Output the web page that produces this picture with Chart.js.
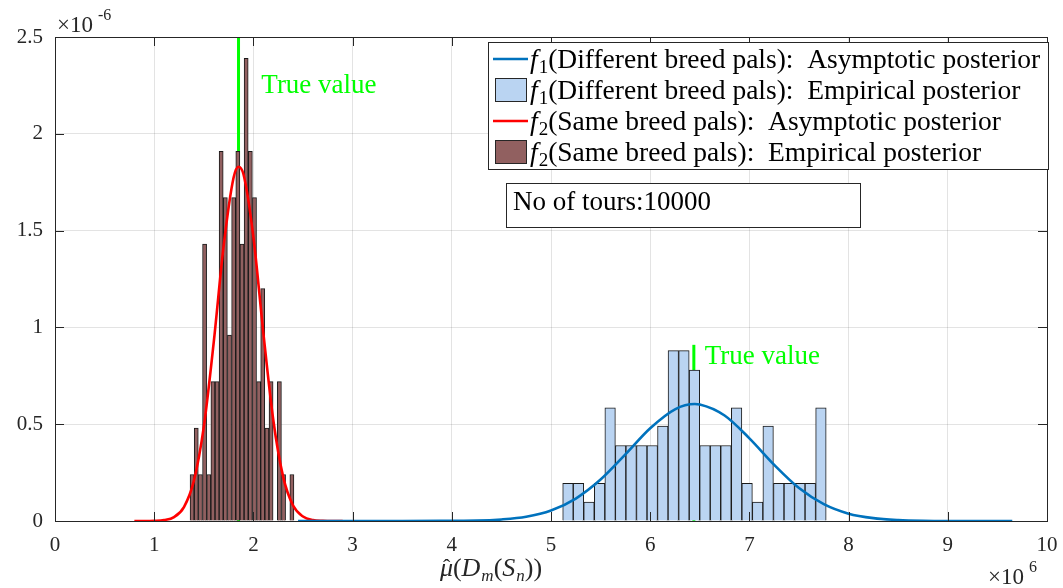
<!DOCTYPE html>
<html>
<head>
<meta charset="utf-8">
<script src="https://cdn.jsdelivr.net/npm/chart.js@4.4.1/dist/chart.umd.min.js"></script>
<style>
html, body { margin: 0; padding: 0; background: #fff; }
#wrap { width: 1063px; height: 588px; }
</style>
</head>
<body>
<div id="wrap"><canvas id="grafica" width="1063" height="588"></canvas></div>
<script>
// histogram f2 (same breed pals): bin centres (x 1e6) and density (x 1e-6)
const binsSame = [1.382, 1.424, 1.466, 1.508, 1.550, 1.592, 1.634, 1.675, 1.717, 1.759,
                  1.801, 1.843, 1.885, 1.927, 1.969, 2.011, 2.053, 2.094, 2.136, 2.178,
                  2.220, 2.262, 2.304, 2.346, 2.388];
const histSame = [0.24, 0.48, 0.24, 1.43, 0.24, 0.72, 0.72, 1.91, 1.67, 0.96,
                  1.67, 1.91, 1.43, 2.39, 1.91, 1.67, 0.72, 1.20, 0.48, 0.72,
                  0, 0.72, 0.24, 0, 0.24];

// histogram f1 (different breed pals)
const binsDiff = [5.171, 5.277, 5.383, 5.490, 5.596, 5.702, 5.808, 5.915, 6.021, 6.127,
                  6.233, 6.340, 6.446, 6.552, 6.658, 6.764, 6.871, 6.977, 7.083, 7.189,
                  7.296, 7.402, 7.508, 7.614, 7.721];
const histDiff = [0.195, 0.195, 0.098, 0.195, 0.585, 0.39, 0.39, 0.39, 0.39, 0.49,
                  0.88, 0.88, 0.78, 0.39, 0.39, 0.39, 0.585, 0.195, 0.098, 0.49,
                  0.195, 0.195, 0.195, 0.195, 0.585];

// asymptotic posteriors
const curveSameX = [0.8, 0.9, 1.0, 1.1, 1.2, 1.3, 1.4, 1.5, 1.6, 1.7, 1.8, 1.85, 1.9,
                    2.0, 2.1, 2.2, 2.3, 2.4, 2.5, 2.6, 2.7, 2.8, 2.9];
const curveSameY = [0, 0, 0.001, 0.005, 0.02, 0.072, 0.207, 0.486, 0.923, 1.421, 1.773, 1.83, 1.791,
                    1.467, 0.973, 0.523, 0.228, 0.08, 0.023, 0.005, 0.001, 0, 0];
const curveDiffX = [2.45, 3.0, 3.5, 4.0, 4.25, 4.5, 4.75, 5.0, 5.25, 5.5, 5.75, 6.0, 6.25, 6.45, 6.5,
                    6.75, 7.0, 7.25, 7.5, 7.75, 8.0, 8.25, 8.5, 8.75, 9.0, 9.65];
const curveDiffY = [0, 0, 0, 0.001, 0.002, 0.008, 0.022, 0.054, 0.116, 0.214, 0.344, 0.479, 0.577, 0.604, 0.602,
                    0.545, 0.427, 0.29, 0.17, 0.087, 0.038, 0.015, 0.005, 0.001, 0, 0];

// true values (x) and how high each green marker goes (y)
const trueX = [1.85, 6.44];
const trueTop = [2.5, 0.91];

const xTicks = ['0', '1', '2', '3', '4', '5', '6', '7', '8', '9', '10'];
const yTicks = ['0', '0.5', '1', '1.5', '2', '2.5'];

const legendNames = ['(Different breed pals):  Asymptotic posterior',
                     '(Different breed pals):  Empirical posterior',
                     '(Same breed pals):  Asymptotic posterior',
                     '(Same breed pals):  Empirical posterior'];
const legendSubs = ['1', '1', '2', '2'];
const toursText = 'No of tours:10000';

const SERIF = '"Liberation Serif", "Times New Roman", serif';
const BLUE = '#0072BD';
const RED = '#FF0000';
const GREEN = '#00FF00';
const LIGHTBLUE = 'rgb(186,212,242)';
const BROWN = 'rgb(145,96,96)';
const AXIS = '#262626';

const pts = (xs, ys) => xs.map((x, i) => ({ x: x, y: ys[i] }));

function drawRuns(ctx, x, y, runs) {
    runs.forEach(r => {
        ctx.font = r.font;
        ctx.fillText(r.text, x, y + (r.dy || 0));
        x += ctx.measureText(r.text).width + (r.gap || 0);
    });
    return x;
}
function runsWidth(ctx, runs) {
    let w = 0;
    runs.forEach(r => { ctx.font = r.font; w += ctx.measureText(r.text).width + (r.gap || 0); });
    return w;
}

const extras = {
    id: 'extras',
    afterDatasetsDraw(chart) {
        const ctx = chart.ctx;
        const a = chart.chartArea;
        const xs = chart.scales.x, ys = chart.scales.y;
        ctx.save();
        ctx.strokeStyle = AXIS;
        ctx.lineWidth = 1;
        ctx.beginPath();
        xs.ticks.forEach(t => {
            const px = Math.round(xs.getPixelForValue(t.value)) + 0.5;
            ctx.moveTo(px, a.bottom); ctx.lineTo(px, a.bottom - 9);
            ctx.moveTo(px, a.top); ctx.lineTo(px, a.top + 9);
        });
        ys.ticks.forEach(t => {
            const py = Math.round(ys.getPixelForValue(t.value)) + 0.5;
            ctx.moveTo(a.left, py); ctx.lineTo(a.left + 9, py);
            ctx.moveTo(a.right, py); ctx.lineTo(a.right - 9, py);
        });
        ctx.stroke();
        ctx.strokeRect(Math.round(a.left) + 0.5, Math.round(a.top) + 0.5,
                       Math.round(a.right - a.left), Math.round(a.bottom - a.top));
        ctx.restore();
    },
    afterDraw(chart) {
        const ctx = chart.ctx;
        const xs = chart.scales.x, ys = chart.scales.y;
        ctx.save();
        ctx.textBaseline = 'alphabetic';
        ctx.textAlign = 'left';

        // "True value" labels
        ctx.fillStyle = GREEN;
        ctx.font = '27px ' + SERIF;
        ctx.fillText('True value', xs.getPixelForValue(2.08), ys.getPixelForValue(2.21));
        ctx.fillText('True value', xs.getPixelForValue(6.55), ys.getPixelForValue(0.81));

        // exponent labels
        ctx.fillStyle = AXIS;
        drawRuns(ctx, 57, 32, [
            { text: '\u00d710', font: '23px ' + SERIF, gap: 5 },
            { text: '-6', font: '16px ' + SERIF, dy: -12 }
        ]);
        drawRuns(ctx, 988, 584, [
            { text: '\u00d710', font: '23px ' + SERIF, gap: 5 },
            { text: '6', font: '16px ' + SERIF, dy: -12 }
        ]);

        // x axis title
        const title = [
            { text: '\u03bc', font: 'italic 26px ' + SERIF },
            { text: '(', font: '26px ' + SERIF },
            { text: 'D', font: 'italic 26px ' + SERIF, gap: 1 },
            { text: 'm', font: 'italic 17px ' + SERIF, dy: 5 },
            { text: '(', font: '26px ' + SERIF },
            { text: 'S', font: 'italic 26px ' + SERIF, gap: 1 },
            { text: 'n', font: 'italic 17px ' + SERIF, dy: 5 },
            { text: '))', font: '26px ' + SERIF }
        ];
        const tw = runsWidth(ctx, title);
        const tx = 491 - tw / 2;
        drawRuns(ctx, tx, 576, title);
        ctx.font = '22px ' + SERIF;
        ctx.fillText('\u02c6', tx + 3, 574);

        // text box
        ctx.strokeStyle = AXIS;
        ctx.lineWidth = 1;
        ctx.fillStyle = '#fff';
        ctx.fillRect(506.5, 183.5, 354, 44);
        ctx.strokeRect(506.5, 183.5, 354, 44);
        ctx.fillStyle = '#000';
        ctx.font = '27px ' + SERIF;
        ctx.fillText(toursText, 513, 210);

        // legend
        const lx = 488.5, ly = 42.5, lw = 560, lh = 127;
        ctx.fillStyle = '#fff';
        ctx.fillRect(lx, ly, lw, lh);
        ctx.strokeStyle = AXIS;
        ctx.strokeRect(lx, ly, lw, lh);
        const rows = [59, 90, 121, 152];
        const swatches = [
            { kind: 'line', color: BLUE },
            { kind: 'box', color: LIGHTBLUE },
            { kind: 'line', color: RED },
            { kind: 'box', color: BROWN }
        ];
        rows.forEach((cy, i) => {
            const s = swatches[i];
            if (s.kind === 'line') {
                ctx.strokeStyle = s.color;
                ctx.lineWidth = 2.5;
                ctx.beginPath();
                ctx.moveTo(493, cy); ctx.lineTo(528, cy);
                ctx.stroke();
            } else {
                ctx.fillStyle = s.color;
                ctx.fillRect(495, cy - 12, 32, 24);
                ctx.strokeStyle = AXIS;
                ctx.lineWidth = 1;
                ctx.strokeRect(495.5, cy - 11.5, 31, 23);
            }
            ctx.fillStyle = '#000';
            drawRuns(ctx, 530, cy + 9, [
                { text: 'f', font: 'italic 27.5px ' + SERIF, gap: 1 },
                { text: legendSubs[i], font: '19px ' + SERIF, dy: 5 },
                { text: legendNames[i], font: '27.5px ' + SERIF }
            ]);
        });
        ctx.restore();
    }
};

const ctx = document.getElementById('grafica').getContext('2d');
const grafica = new Chart(ctx, {
    type: 'line',
    data: {
        datasets: [{
            type: 'line',
            label: 'f1 asymptotic',
            data: pts(curveDiffX, curveDiffY),
            borderColor: BLUE,
            borderWidth: 2.6,
            pointRadius: 0,
            cubicInterpolationMode: 'monotone',
            fill: false,
            order: 0
        }, {
            type: 'line',
            label: 'f2 asymptotic',
            data: pts(curveSameX, curveSameY),
            borderColor: RED,
            borderWidth: 2.6,
            pointRadius: 0,
            cubicInterpolationMode: 'monotone',
            fill: false,
            order: 0
        }, {
            type: 'bar',
            label: 'f1 empirical',
            data: pts(binsDiff, histDiff),
            xAxisID: 'x2',
            backgroundColor: LIGHTBLUE,
            borderColor: '#1a1a1a',
            borderWidth: 1,
            borderSkipped: 'start',
            barPercentage: 1,
            categoryPercentage: 1,
            grouped: false,
            order: 1
        }, {
            type: 'bar',
            label: 'f2 empirical',
            data: pts(binsSame, histSame),
            backgroundColor: BROWN,
            borderColor: '#1a1a1a',
            borderWidth: 1,
            borderSkipped: 'start',
            barPercentage: 1,
            categoryPercentage: 1,
            grouped: false,
            order: 1
        }, {
            type: 'line',
            label: 'true f2',
            data: [{ x: trueX[0], y: 0 }, { x: trueX[0], y: trueTop[0] }],
            borderColor: GREEN,
            borderWidth: 3,
            pointRadius: 0,
            order: 2
        }, {
            type: 'line',
            label: 'true f1',
            data: [{ x: trueX[1], y: 0 }, { x: trueX[1], y: trueTop[1] }],
            borderColor: GREEN,
            borderWidth: 3,
            pointRadius: 0,
            order: 2
        }]
    },
    options: {
        responsive: false,
        animation: false,
        devicePixelRatio: 1,
        layout: { padding: { top: 37, right: 16, left: 0, bottom: 0 } },
        plugins: {
            legend: { display: false },
            tooltip: { enabled: false }
        },
        scales: {
            x: {
                type: 'linear',
                min: 0,
                max: 10,
                offset: false,
                grid: { offset: false, color: 'rgba(38,38,38,0.13)', drawTicks: false },
                border: { display: false },
                ticks: {
                    stepSize: 1,
                    padding: 12,
                    color: AXIS,
                    font: { family: SERIF, size: 21 },
                    callback: (v, i) => xTicks[i]
                },
                afterFit: s => { s.height = 67; s.paddingLeft = 0; s.paddingRight = 0; }
            },
            x2: {
                type: 'linear',
                min: 0,
                max: 10,
                offset: false,
                display: false,
                grid: { offset: false }
            },
            y: {
                type: 'linear',
                min: 0,
                max: 2.5,
                grid: { color: 'rgba(38,38,38,0.13)', drawTicks: false },
                border: { display: false },
                ticks: {
                    stepSize: 0.5,
                    padding: 12,
                    color: AXIS,
                    font: { family: SERIF, size: 21 },
                    callback: (v, i) => yTicks[i]
                },
                afterFit: s => { s.width = 55; }
            }
        }
    },
    plugins: [extras]
});
</script>
</body>
</html>
